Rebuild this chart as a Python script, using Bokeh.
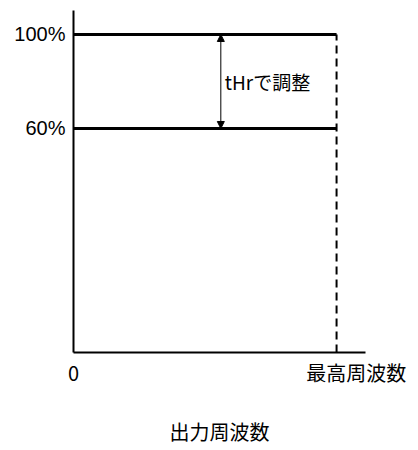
from bokeh.plotting import figure
from bokeh.models import ColumnDataSource, FixedTicker, Range1d, Arrow, NormalHead
from bokeh.core.properties import value
from bokeh.embed import file_html
from bokeh.resources import INLINE

# Data (schematic)
freq_zero = 0                           # origin of output frequency
freq_max = 1                            # maximum frequency (normalized)
freq_max_label_pos = 1.075              # where the "最高周波数" label sits on the axis
freq_tick_labels = ["0", "最高周波数"]
level_values = [100, 60]                # % output voltage levels
level_labels = ["100%", "60%"]
arrow_x = 0.56                          # position of adjust arrow
adjust_text = "tHrで調整"
x_title = "出力周波数"

JP = "Noto Sans CJK JP"

p = figure(width=410, height=450, output_backend="svg", toolbar_location=None,
           x_range=Range1d(0, 1.11), y_range=Range1d(-35.3, 110.2),
           min_border_left=73, min_border_right=45, min_border_top=10, min_border_bottom=98)
p.outline_line_color = None
p.xgrid.visible = False
p.ygrid.visible = False
p.background_fill_color = "white"

# horizontal level lines from 0 to fmax
src = ColumnDataSource(dict(x0=[freq_zero] * 2, x1=[freq_max] * 2, y=level_values))
p.segment(x0="x0", y0="y", x1="x1", y1="y", source=src, line_color="black", line_width=3)

# dashed vertical at fmax
p.segment(x0=[freq_max], y0=[p.y_range.start], x1=[freq_max], y1=[level_values[0]],
          line_color="black", line_width=2, line_dash="8 5")

# double arrow between levels
p.add_layout(Arrow(x_start=arrow_x, y_start=level_values[1], x_end=arrow_x, y_end=level_values[0],
                   line_color="black", line_width=1,
                   end=NormalHead(size=7, fill_color="black", line_color="black"),
                   start=NormalHead(size=7, fill_color="black", line_color="black")))
p.text(x=[arrow_x + 0.015], y=[(level_values[0] + level_values[1]) / 2], text=[adjust_text],
       text_font=value(JP), text_font_size="19px", text_align="left", text_baseline="middle",
       text_color="black")

# axes
tick_pos = [freq_zero, freq_max_label_pos]
xa = p.xaxis[0]
xa.ticker = FixedTicker(ticks=tick_pos)
xa.major_label_overrides = {tick_pos[i]: freq_tick_labels[i] for i in range(len(tick_pos))}
xa.minor_tick_line_color = None
xa.major_tick_out = 0
xa.major_tick_in = 0
xa.axis_line_width = 2
xa.axis_line_color = "black"
xa.major_label_text_font = JP
xa.major_label_text_font_size = "20px"
xa.major_label_text_color = "black"
xa.major_label_standoff = 5
xa.axis_label = x_title
xa.axis_label_text_font = JP
xa.axis_label_text_font_size = "20px"
xa.axis_label_text_font_style = "normal"
xa.axis_label_text_color = "black"
xa.axis_label_standoff = 27

ya = p.yaxis[0]
ya.ticker = FixedTicker(ticks=level_values)
ya.major_label_overrides = {level_values[i]: level_labels[i] for i in range(len(level_values))}
ya.minor_tick_line_color = None
ya.major_tick_out = 0
ya.major_tick_in = 0
ya.axis_line_width = 2
ya.axis_line_color = "black"
ya.major_label_text_font = "Liberation Sans"
ya.major_label_text_font_size = "20px"
ya.major_label_text_color = "black"
ya.major_label_standoff = 8

open("out.html", "w").write(file_html(p, INLINE))
